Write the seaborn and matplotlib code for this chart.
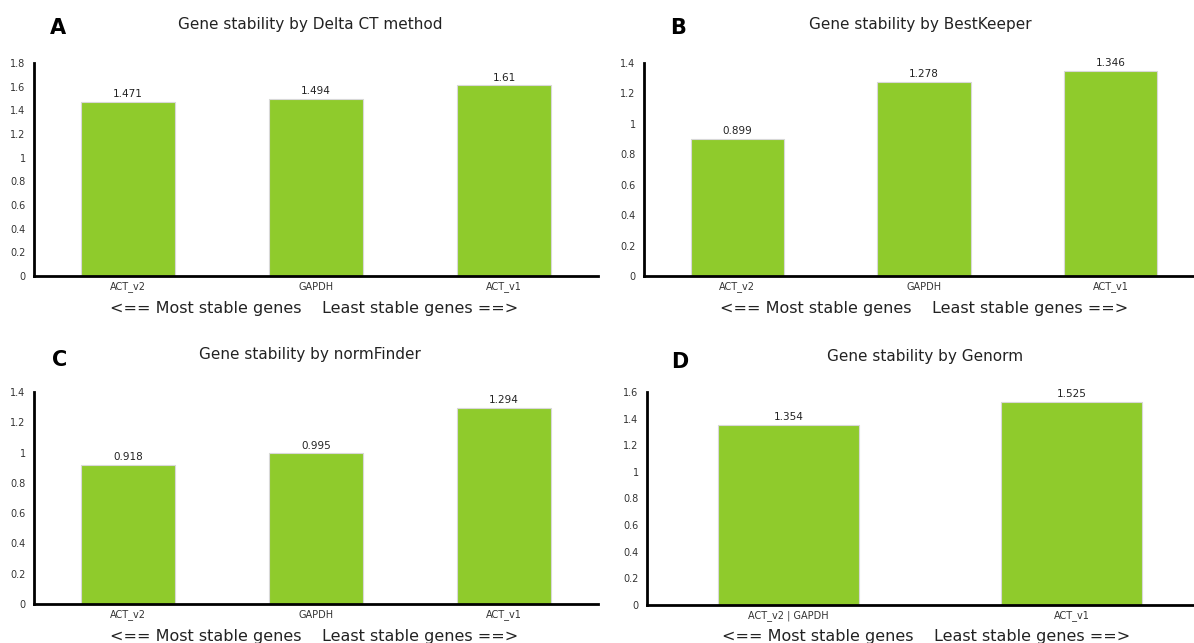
import matplotlib
matplotlib.use("Agg")
import matplotlib.pyplot as plt
import seaborn as sns
import pandas as pd
from matplotlib.ticker import FuncFormatter, MultipleLocator

sns.set_style("white")
plt.rcParams['font.family'] = ['DejaVu Sans']

# data
genes_3 = ["ACT_v2", "GAPDH", "ACT_v1"]
delta_ct = [1.471, 1.494, 1.61]
bestkeeper = [0.899, 1.278, 1.346]
normfinder = [0.918, 0.995, 1.294]
genes_genorm = ["ACT_v2 | GAPDH", "ACT_v1"]
genorm = [1.354, 1.525]

titles = ["Gene stability by Delta CT method", "Gene stability by BestKeeper",
          "Gene stability by normFinder", "Gene stability by Genorm"]
letters = ["A", "B", "C", "D"]
ymaxes = [1.8, 1.4, 1.4, 1.6]
xlabel_text = "<== Most stable genes    Least stable genes ==>"

W, H = 1194, 643
fig = plt.figure(figsize=(W / 100, H / 100), dpi=100)
fig.patch.set_facecolor("white")

# axes boxes in pixels: left, right, top, bottom
boxes = [(34, 598, 63, 276), (644, 1204, 63, 276), (34, 598, 392, 604), (647, 1213, 392, 605)]
datasets = [(genes_3, delta_ct), (genes_3, bestkeeper), (genes_3, normfinder), (genes_genorm, genorm)]
title_pos = [(310, 25), (920, 25), (310, 355), (925, 356)]
letter_pos = [(58, 28), (678, 28), (60, 360), (680, 362)]
xlabel_pos = [(314, 308), (924, 308), (314, 636), (926, 636)]

bar_color = "#8fcb2c"

for i in range(4):
    l, r, t, b = boxes[i]
    ax = fig.add_axes([l / W, 1 - b / H, (r - l) / W, (b - t) / H])
    cats, vals = datasets[i]
    df = pd.DataFrame({"gene": cats, "value": vals})
    sns.barplot(data=df, x="gene", y="value", ax=ax, color=bar_color,
                width=0.5, edgecolor="#d8d8d8", linewidth=0.8, saturation=1)
    ax.set_xlim(-0.5, len(cats) - 0.5)
    ax.set_ylim(0, ymaxes[i])
    ax.yaxis.set_major_locator(MultipleLocator(0.2))
    ax.yaxis.set_major_formatter(FuncFormatter(lambda v, p: "%g" % round(v, 2)))
    ax.tick_params(axis="both", length=0, labelsize=7, colors="#333333", pad=4)
    ax.tick_params(axis="y", pad=6)
    ax.set_xlabel("")
    ax.set_ylabel("")
    for s in ["top", "right"]:
        ax.spines[s].set_visible(False)
    for s in ["left", "bottom"]:
        ax.spines[s].set_color("black")
        ax.spines[s].set_linewidth(2)
    for c in ax.containers:
        ax.bar_label(c, labels=["%g" % v for v in vals], padding=2, fontsize=7.5, color="#222222")
    fig.text(title_pos[i][0] / W, 1 - title_pos[i][1] / H, titles[i], ha="center", va="center",
             fontsize=11, color="#222222")
    fig.text(letter_pos[i][0] / W, 1 - letter_pos[i][1] / H, letters[i], ha="center", va="center",
             fontsize=15, fontweight="bold", color="black")
    fig.text(xlabel_pos[i][0] / W, 1 - xlabel_pos[i][1] / H, xlabel_text, ha="center", va="center",
             fontsize=11.5, color="#222222")

fig.savefig("out.png", dpi=100, facecolor="white")
